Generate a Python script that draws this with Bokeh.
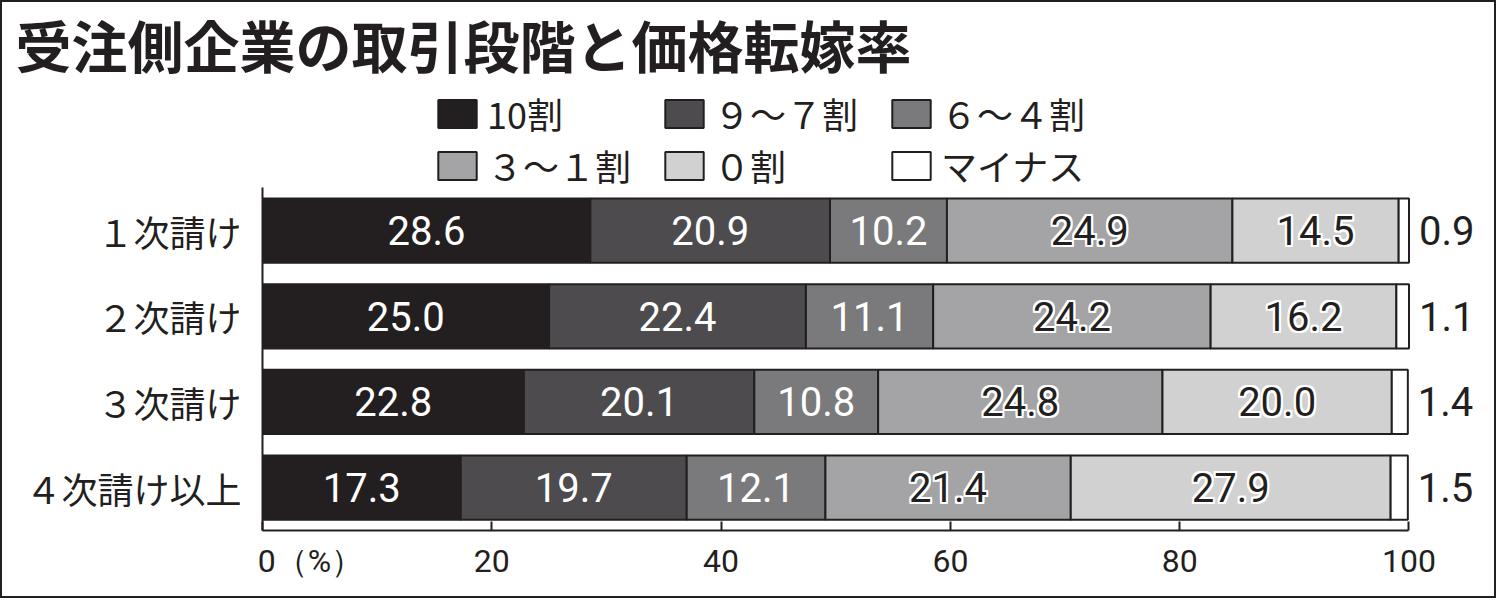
from bokeh.plotting import figure
from bokeh.models import ColumnDataSource, Range1d, FixedTicker, Legend, LegendItem
from bokeh.core.properties import value
from bokeh.embed import file_html
from bokeh.resources import INLINE

# data
stages = ["１次請け", "２次請け", "３次請け", "４次請け以上"]
series = ["10割", "９～７割", "６～４割", "３～１割", "０割", "マイナス"]
r10 = [28.6, 25.0, 22.8, 17.3]
r97 = [20.9, 22.4, 20.1, 19.7]
r64 = [10.2, 11.1, 10.8, 12.1]
r31 = [24.9, 24.2, 24.8, 21.4]
r0 = [14.5, 16.2, 20.0, 27.9]
rminus = [0.9, 1.1, 1.4, 1.5]
x_ticks = [0, 20, 40, 60, 80, 100]
x_labels = ["\u3000\u3000\u30000（%）", "20", "40", "60", "80", "100"]

colors = ["#231f20", "#4d4b4d", "#7a797b", "#a4a4a6", "#d1d1d2", "#ffffff"]
ink = "#231f20"
jp = "Noto Sans CJK JP"
num = "Roboto"

# first stage on top
ypos = list(range(len(stages)))[::-1]

segs = [r10, r97, r64, r31, r0, rminus]
keys = ["s%d" % i for i in range(len(segs))]
data = {"y": ypos}
for k, s in zip(keys, segs):
    data[k] = s
src = ColumnDataSource(data)

# frame runs from under the title to the x axis; the y axis only covers the bars
W, H = 1496, 598
left_px, bottom_px = 260, 70
frame_top = 83          # height taken by the title panel
px_per_pct = 11.46
row_px = 85.67
x_end = 106.5
y_end = -0.5 + (H - frame_top - bottom_px) / row_px
right_px = int(W - left_px - x_end * px_per_pct)

p = figure(width=W, height=H, x_range=Range1d(0, x_end), y_range=Range1d(-0.5, y_end),
           output_backend="svg", toolbar_location=None,
           min_border_left=left_px, min_border_right=right_px,
           min_border_top=0, min_border_bottom=bottom_px)
p.styles = {"border": "2px solid #231f20"}
p.outline_line_color = None
p.grid.visible = False

rs = p.hbar_stack(keys, y="y", height=0.75, source=src, fill_color=colors,
                  line_color=ink, line_width=2)

# labels inside the bars
white = {"x": [], "y": [], "t": []}
dark = {"x": [], "y": [], "t": []}
outer = {"x": [], "y": [], "t": []}
for i, yy in enumerate(ypos):
    left = 0
    for k, s in enumerate(segs):
        v = s[i]
        if k < 3:
            tgt = white
        elif k < 5:
            tgt = dark
        else:
            tgt = None
        if tgt is not None:
            tgt["x"].append(left + v / 2)
            tgt["y"].append(yy)
            tgt["t"].append("%.1f" % v)
        left += v
    outer["x"].append(left)
    outer["y"].append(yy)
    outer["t"].append("%.1f" % rminus[i])

fs = "40px"
font = value(num)
p.text(x="x", y="y", text="t", source=ColumnDataSource(white), text_color="white",
       text_font=font, text_font_size=fs, text_align="center", text_baseline="middle")
dsrc = ColumnDataSource(dark)
for ox, oy in [(-2, 0), (2, 0), (0, -2), (0, 2), (-2, -2), (2, 2), (-2, 2), (2, -2)]:
    p.text(x="x", y="y", text="t", source=dsrc, text_color="white", x_offset=ox, y_offset=oy,
           text_font=font, text_font_size=fs, text_align="center", text_baseline="middle")
p.text(x="x", y="y", text="t", source=dsrc, text_color=ink,
       text_font=font, text_font_size=fs, text_align="center", text_baseline="middle")
p.text(x="x", y="y", text="t", source=ColumnDataSource(outer), text_color=ink, x_offset=10,
       text_font=font, text_font_size=fs, text_align="left", text_baseline="middle")

# axes
p.xaxis.ticker = FixedTicker(ticks=x_ticks)
p.xaxis.major_label_overrides = dict(zip(x_ticks, x_labels))
p.xaxis.bounds = (0, 100)
p.xaxis.axis_line_color = ink
p.xaxis.axis_line_width = 2
p.xaxis.major_tick_line_color = ink
p.xaxis.major_tick_line_width = 2
p.xaxis.major_tick_in = 9
p.xaxis.major_tick_out = 0
p.xaxis.minor_tick_line_color = None
p.xaxis.major_label_standoff = 11
p.xaxis.major_label_text_font = num
p.xaxis.major_label_text_font_size = "32px"
p.xaxis.major_label_text_color = ink

p.yaxis.ticker = FixedTicker(ticks=ypos)
p.yaxis.major_label_overrides = dict(zip(ypos, stages))
p.yaxis.bounds = (-0.5, len(stages) - 0.5)
p.yaxis.axis_line_color = ink
p.yaxis.axis_line_width = 2
p.yaxis.major_tick_line_color = None
p.yaxis.minor_tick_line_color = None
p.yaxis.major_label_standoff = 15
p.yaxis.major_label_text_font = jp
p.yaxis.major_label_text_font_size = "36px"
p.yaxis.major_label_text_color = ink

# title
p.title.text = "受注側企業の取引段階と価格転嫁率"
p.title.text_font = jp
p.title.text_font_size = "56px"
p.title.text_font_style = "bold"
p.title.text_color = ink
p.title.align = "left"
p.title.vertical_align = "top"
p.title.offset = 13 - left_px
p.title.standoff = 0

# legend at the top of the frame, over the bars; items fill column by column
half = len(series) // 2
order = [i for pair in zip(range(half), range(half, len(series))) for i in pair]
items = [LegendItem(label=series[i], renderers=[rs[i]]) for i in order]
leg = Legend(items=items, ncols=3, location=(171, 339), glyph_width=48, glyph_height=35,
             label_height=35, label_width=173, label_standoff=6, spacing=0, padding=0,
             margin=0, border_line_color=None, background_fill_alpha=0,
             label_text_font=jp, label_text_font_size="36px", label_text_color=ink)
p.add_layout(leg)

open("out.html", "w").write(file_html(p, INLINE))
